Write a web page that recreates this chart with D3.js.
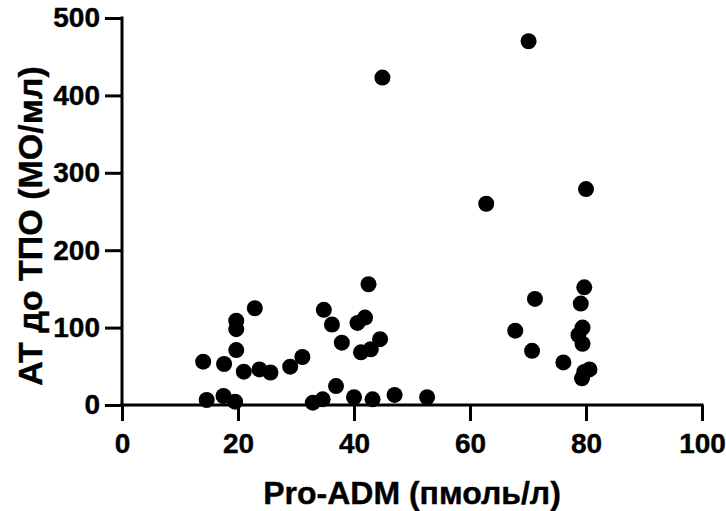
<!DOCTYPE html>
<html>
<head>
<meta charset="utf-8">
<script src="https://cdn.jsdelivr.net/npm/d3@7"></script>
<style>
  html, body { margin: 0; padding: 0; background: #fff; }
  text { font-family: "Liberation Sans", Arial, sans-serif; font-weight: bold; stroke: #000; stroke-width: 0.4px; }
</style>
</head>
<body>
<svg id="chart" width="726" height="511"></svg>
<script>
const proADM = [14.0, 14.6, 17.5, 19.5, 17.6, 19.7, 19.7, 19.7, 21.0, 22.9, 23.7, 25.6, 29.0, 31.1, 32.9,
  42.5, 34.8, 36.2, 40.6, 41.9, 37.9, 44.5, 41.2, 42.9, 36.9, 34.6, 40.0, 43.2, 47.0, 52.6,
  62.8, 80.0, 79.7, 71.2, 79.1, 67.8, 79.4, 78.7, 79.4, 70.7, 76.1, 80.6, 79.7, 79.3, 44.9, 70.1];
const atTPO = [56, 6.5, 11.6, 4.3, 53, 109, 98, 71, 43, 125, 46, 42, 49.5, 62, 3,
  156, 123, 104, 106, 113, 80.5, 85, 68, 72, 24.5, 7.3, 10, 7.3, 13, 10,
  260, 279, 152, 137, 131, 96, 100, 90.4, 79, 70, 55, 46, 42.6, 34.4, 423, 470];
const xTicks = [0, 20, 40, 60, 80, 100];
const yTicks = [0, 100, 200, 300, 400, 500];
const xTitle = "Pro-ADM (пмоль/л)";
const yTitle = "АТ до ТПО (МО/мл)";

const svg = d3.select("#chart");
const x = d3.scaleLinear().domain([0, 100]).range([122, 702]);
const y = d3.scaleLinear().domain([0, 500]).range([405, 18]);

const xAxis = svg.append("g").attr("transform", "translate(0,405)")
  .call(d3.axisBottom(x).tickValues(xTicks).tickSize(16).tickPadding(12).tickSizeOuter(0));
const yAxis = svg.append("g").attr("transform", "translate(122,0)")
  .call(d3.axisLeft(y).tickValues(yTicks).tickSize(17).tickPadding(5).tickSizeOuter(0));

[xAxis, yAxis].forEach(g => {
  g.select(".domain").attr("stroke", "#000").attr("stroke-width", 3);
  g.selectAll(".tick line").attr("stroke", "#000").attr("stroke-width", 3);
  g.selectAll(".tick text").attr("fill", "#000").style("font-size", "28px");
});
xAxis.select(".domain").attr("d", `M${x(0)-1.5},0H${x(100)+1.5}`);
yAxis.select(".domain").attr("d", `M0,${y(0)+1.5}V${y(500)-1.5}`);

svg.append("g").selectAll("circle")
  .data(proADM.map((v, i) => [v, atTPO[i]]))
  .join("circle")
  .attr("cx", d => x(d[0]))
  .attr("cy", d => y(d[1]))
  .attr("r", 8)
  .attr("fill", "#000");

svg.append("text")
  .attr("x", 412).attr("y", 504)
  .attr("text-anchor", "middle")
  .style("font-size", "32px")
  .text(xTitle);

svg.append("text")
  .attr("transform", "translate(42,226) rotate(-90)")
  .attr("text-anchor", "middle")
  .style("font-size", "34px")
  .text(yTitle);
</script>
</body>
</html>
